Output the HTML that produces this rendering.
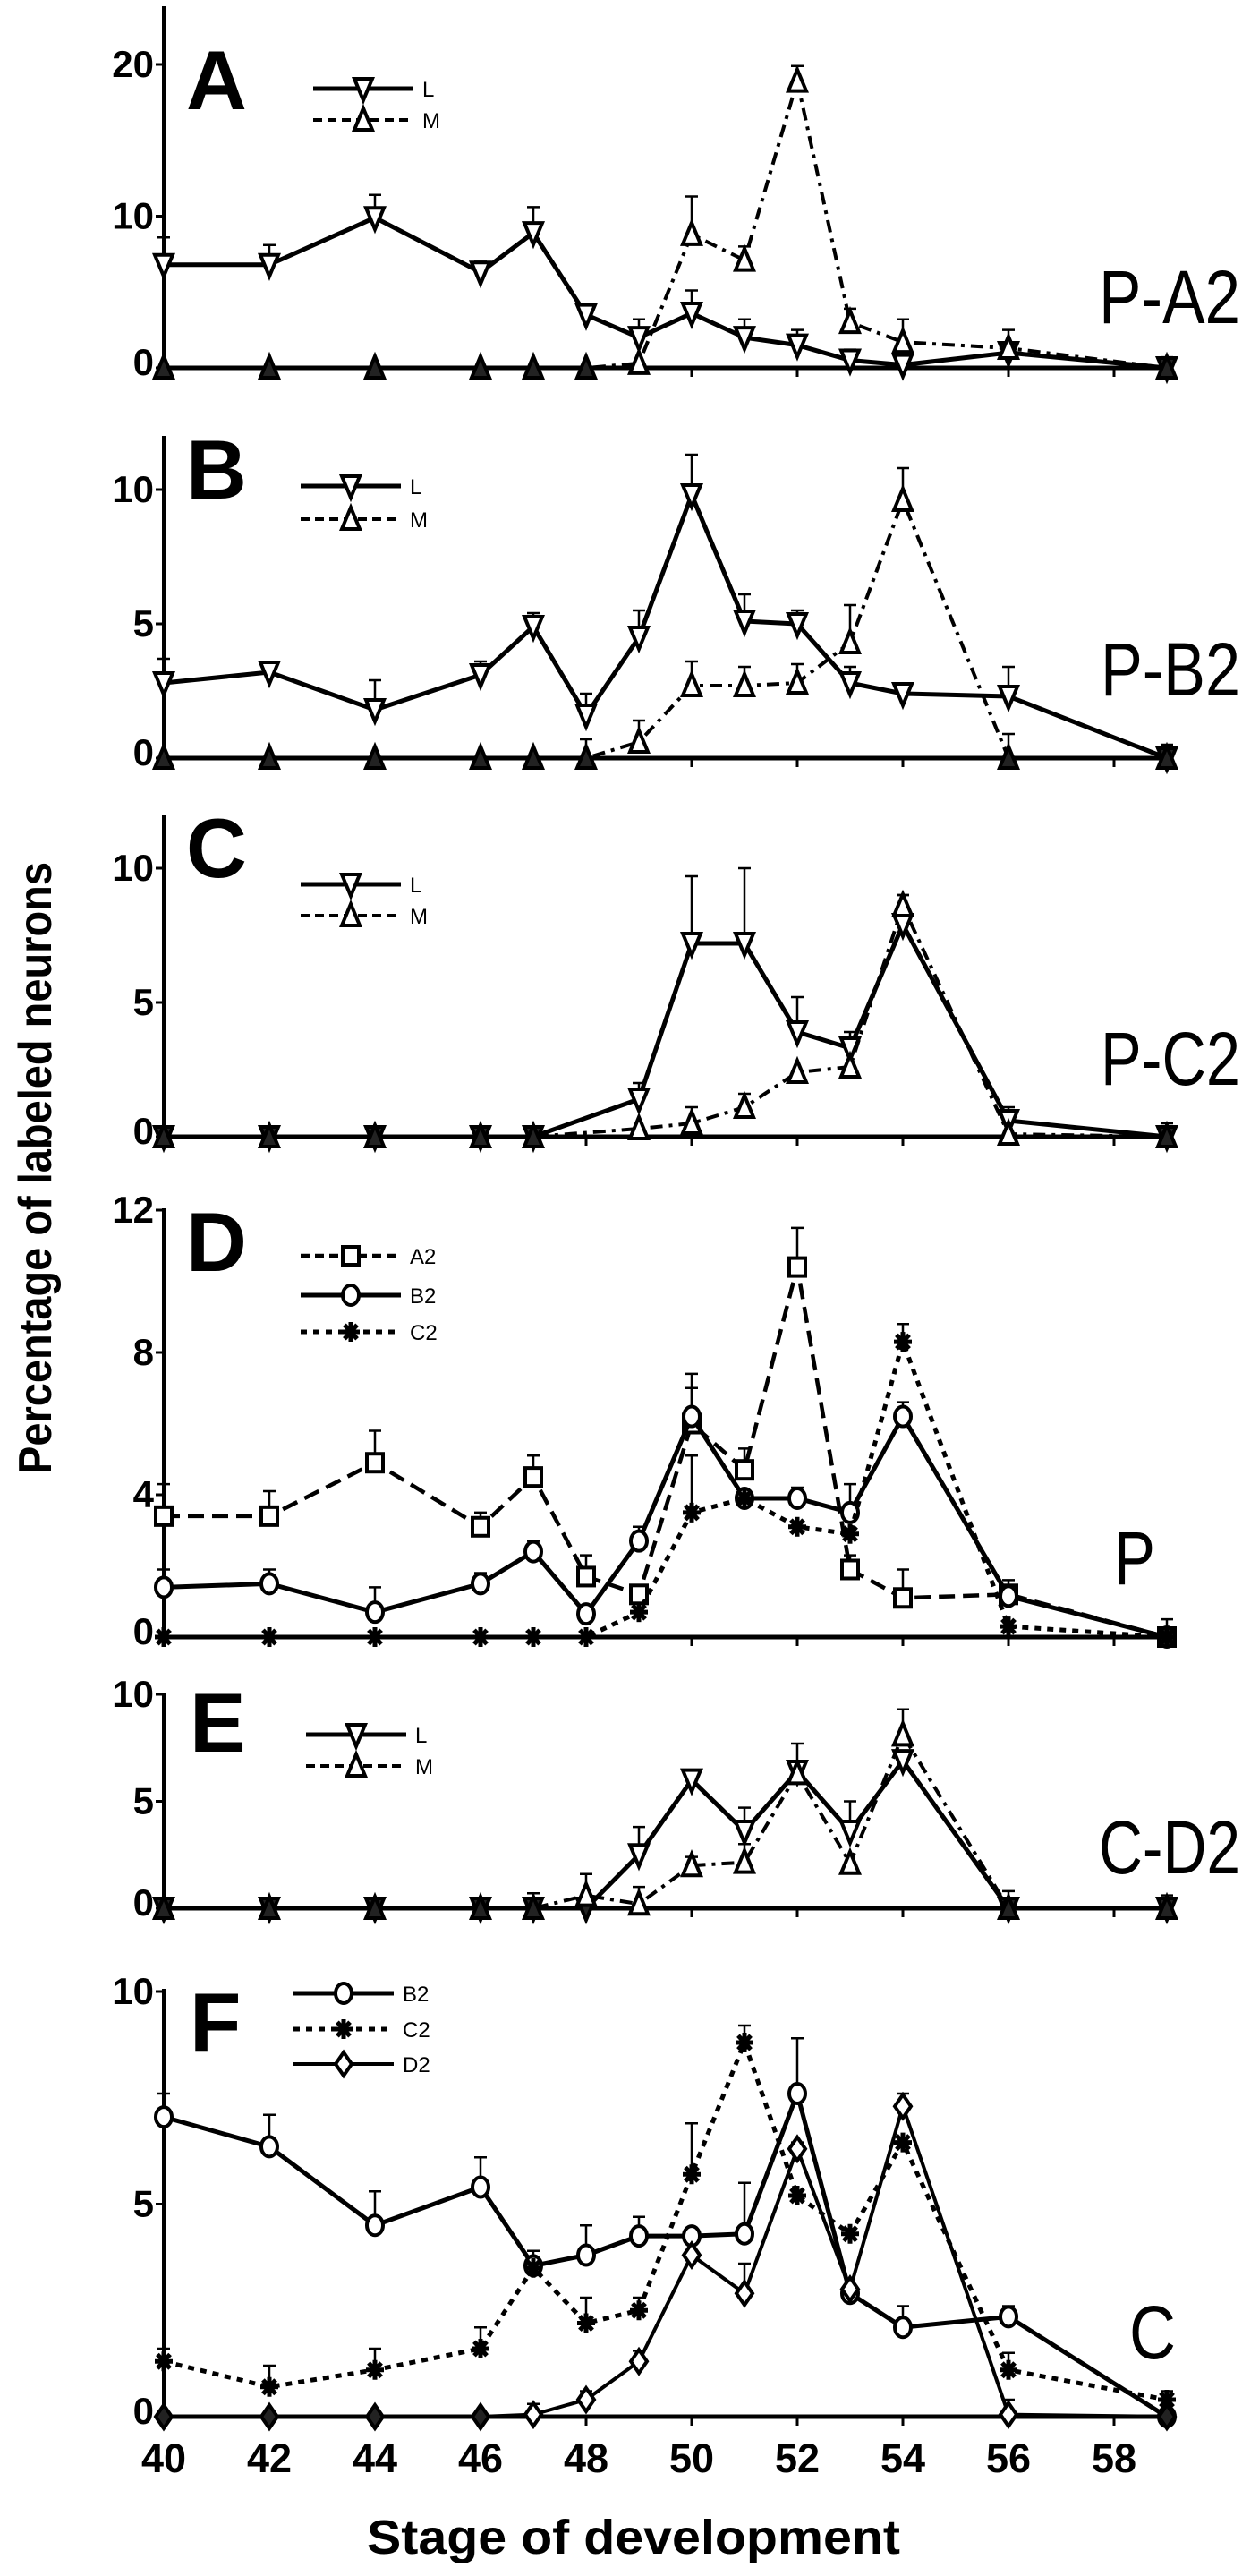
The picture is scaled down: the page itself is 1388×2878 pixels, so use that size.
<!DOCTYPE html>
<html>
<head>
<meta charset="utf-8">
<style>
html,body{margin:0;padding:0;background:#fff;}
svg{display:block;}
text{font-family:"Liberation Sans",Arial,sans-serif;fill:#000;}
</style>
</head>
<body>
<svg id="chart" width="1388" height="2878" viewBox="0 0 1388 2878" xmlns="http://www.w3.org/2000/svg"></svg>
<script>
// ---- shared x categories ----
const stages = [40,42,44,46,47,48,49,50,51,52,53,54,56,59];
const xTickLabels = [40,42,44,46,48,50,52,54,56,58];

// ---- Panel A (P-A2) ----
const aTicks = [0,10,20];
const aL    = [6.8,6.8,9.9,6.3,8.9,3.5,2.0,3.6,2.0,1.5,0.5,0.2,1.0,0];
const aLerr = [8.6,8.1,11.4,7.0,10.6,4.2,3.2,5.1,3.2,2.5,1.2,0.8,null,0.7];
const aM    = [0,0,0,0,0,0,0.3,8.8,7.1,18.9,3.0,1.7,1.3,0];
const aMerr = [null,null,null,null,null,null,null,11.3,8.0,19.9,3.9,3.2,2.5,null];

// ---- Panel B (P-B2) ----
const bTicks = [0,5,10];
const bL    = [2.8,3.2,1.8,3.1,4.9,1.6,4.5,9.8,5.1,5.0,2.8,2.4,2.3,0];
const bLerr = [3.7,3.4,2.9,3.6,5.4,2.4,5.5,11.3,6.1,5.5,3.4,2.7,3.4,0.5];
const bM    = [0,0,0,0,0,0,0.6,2.7,2.7,2.8,4.3,9.6,0,0];
const bMerr = [null,null,null,null,null,0.7,1.4,3.6,3.4,3.5,5.7,10.8,0.9,null];

// ---- Panel C (P-C2) ----
const cTicks = [0,5,10];
const cL    = [0,0,0,0,0,null,1.4,7.2,7.2,3.9,3.3,7.9,0.6,0];
const cLerr = [null,null,null,null,null,null,2.0,9.7,10.0,5.2,3.9,9.0,1.1,0.5];
const cM    = [0,0,0,0,0,null,0.3,0.5,1.1,2.4,2.6,8.6,0.1,0];
const cMerr = [null,null,null,null,null,null,null,1.1,1.6,null,null,9.0,null,null];

// ---- Panel D (P) ----
const dTicks = [0,4,8,12];
const dA2    = [3.4,3.4,4.9,3.1,4.5,1.7,1.2,6.0,4.7,10.4,1.9,1.1,1.2,0];
const dA2err = [4.3,4.1,5.8,3.5,5.1,2.3,null,7.4,5.3,11.5,2.3,1.9,1.6,null];
const dB2    = [1.4,1.5,0.7,1.5,2.4,0.65,2.7,6.2,3.9,3.9,3.5,6.2,1.15,0];
const dB2err = [1.9,1.9,1.4,1.8,2.7,null,3.1,7.0,null,4.2,4.3,6.6,null,null];
const dC2    = [0,0,0,0,0,0,0.7,3.5,3.9,3.1,2.9,8.3,0.3,0];
const dC2err = [null,null,null,null,null,null,null,5.1,null,null,null,8.8,null,0.5];

// ---- Panel E (C-D2) ----
const eTicks = [0,5,10];
const eL    = [0,0,0,0,0,0,2.5,6.0,3.6,6.4,3.6,6.9,0,0];
const eLerr = [null,null,null,null,0.7,null,3.8,6.4,4.7,7.7,5.0,null,0.8,0.6];
const eM    = [0,0,0,0,0,0.6,0.2,2.0,2.15,6.3,2.1,8.1,0,0];
const eMerr = [null,null,null,null,null,1.6,1.0,2.4,3.0,null,null,9.3,null,null];

// ---- Panel F (C) ----
const fTicks = [0,5,10];
const fB2    = [7.05,6.35,4.5,5.4,3.55,3.8,4.25,4.25,4.3,7.6,2.9,2.1,2.35,0];
const fB2err = [7.6,7.1,5.3,6.1,3.9,4.5,4.7,null,5.5,8.9,null,2.6,2.6,0.6];
const fC2    = [1.3,0.7,1.1,1.6,3.5,2.2,2.5,5.7,8.8,5.2,4.3,6.45,1.1,0.4];
const fC2err = [1.6,1.2,1.6,2.1,null,2.8,2.8,6.9,9.2,null,null,null,1.5,null];
const fD2    = [0,0,0,0,0.05,0.4,1.3,3.8,2.9,6.3,3.0,7.3,0.05,0];
const fD2err = [null,null,null,null,0.3,0.6,1.55,null,3.6,6.45,null,7.6,0.4,null];

const NS = "http://www.w3.org/2000/svg";
const svg = document.getElementById('chart');
function mk(tag, attrs, parent){
  const e = document.createElementNS(NS, tag);
  for (const k in attrs) e.setAttribute(k, attrs[k]);
  (parent||svg).appendChild(e);
  return e;
}
function xs(s){ return 183 + (s-40)*59; }

const styles = {
  L:  {dash:null, w:5, marker:'tdown'},
  M:  {dash:'14 7 4 7', w:4, marker:'tup'},
  A2: {dash:'18 9', w:4.5, marker:'square'},
  B2: {dash:null, w:5, marker:'circle'},
  C2: {dash:'7 7', w:5, marker:'star'},
  D2: {dash:null, w:4, marker:'diamond'}
};

function drawMarker(g, type, cx, cy, filled, r){
  r = r||12;
  const fill = filled ? '#222' : '#fff';
  let m;
  if (type==='tdown') m = mk('polygon',{points:`${cx-10},${cy-11} ${cx+10},${cy-11} ${cx},${cy+13}`,fill:fill,stroke:'#000','stroke-width':4},g);
  else if (type==='tup') m = mk('polygon',{points:`${cx-10},${cy+11} ${cx+10},${cy+11} ${cx},${cy-13}`,fill:fill,stroke:'#000','stroke-width':4},g);
  else if (type==='square') m = mk('rect',{x:cx-9,y:cy-10,width:18,height:20,fill:fill,stroke:'#000','stroke-width':4},g);
  else if (type==='circle') m = mk('ellipse',{cx:cx,cy:cy,rx:9,ry:11,fill:fill,stroke:'#000','stroke-width':4},g);
  else if (type==='diamond') m = mk('polygon',{points:`${cx},${cy-13} ${cx+9},${cy} ${cx},${cy+13} ${cx-9},${cy}`,fill:fill,stroke:'#000','stroke-width':4},g);
  else if (type==='star'){
    m = mk('g',{},g);
    for (let a=0;a<4;a++){
      const an = a*Math.PI/4;
      mk('line',{x1:cx-10*Math.cos(an),y1:cy-11*Math.sin(an),x2:cx+10*Math.cos(an),y2:cy+11*Math.sin(an),stroke:'#000','stroke-width':5},m);
    }
  }
  return m;
}

function drawPanel(p){
  const g = mk('g',{});
  
  
  const y = v => p.zero - v*p.ppu;
  // y axis
  const ya = mk('line',{x1:183,y1:p.top,x2:183,y2:p.zero,stroke:'#000','stroke-width':4},g);
  
  
  // x axis
  const xa = mk('line',{x1:181,y1:p.zero,x2:1306,y2:p.zero,stroke:'#000','stroke-width':5},g);
  
  
  xTickLabels.forEach(s=>{
    const t = mk('line',{x1:xs(s),y1:p.zero,x2:xs(s),y2:p.zero+10,stroke:'#000','stroke-width':3},g);
    
    
  });
  p.ticks.forEach(v=>{
    const tm = mk('line',{x1:174,y1:y(v),x2:183,y2:y(v),stroke:'#000','stroke-width':3},g);
    
    
    const tl = mk('text',{x:172,y:y(v)+(v===0?8:14),'text-anchor':'end','font-size':42,'font-weight':'bold'},g);
    tl.textContent = v;
    
    
  });
  // series
  p.series.forEach(s=>{
    const st = styles[s.key];
    const sg = mk('g',{},g);
    
    
    // error bars
    s.err.forEach((e,i)=>{
      if (e===null || s.vals[i]===null) return;
      const x = xs(stages[i]);
      const eb = mk('path',{d:`M${x},${y(s.vals[i])}V${y(e)}M${x-7},${y(e)}H${x+7}`,stroke:'#000','stroke-width':2.5,fill:'none'},sg);
      
      
    });
    let d = '';
    s.vals.forEach((v,i)=>{
      if (v===null) return;
      d += (d?'L':'M') + xs(stages[i]) + ',' + y(v);
    });
    const ln = mk('path',{d:d,fill:'none',stroke:'#000','stroke-width':st.w,'stroke-linejoin':'round'},sg);
    if (st.dash) ln.setAttribute('stroke-dasharray', st.dash);
    
    
    s.vals.forEach((v,i)=>{
      if (v===null) return;
      const m = drawMarker(sg, st.marker, xs(stages[i]), y(v), v===0);
      
      
    });
  });
  // panel letter
  const pl = mk('text',{x:p.lx,y:p.ly,'font-size':94,'font-weight':'bold'},g);
  pl.textContent = p.id;
  
  
  // panel label
  const lb = mk('text',{x:p.labX,y:p.labY,'font-size':84,textLength:p.labW,lengthAdjust:'spacingAndGlyphs'},g);
  lb.textContent = p.label;
  
  
  // legend
  p.series.forEach((s,i)=>{
    const st = styles[s.key];
    const ly = p.legY[i];
    const lg = mk('g',{},g);
    
    
    const l = mk('line',{x1:p.legX,y1:ly,x2:p.legX+112,y2:ly,stroke:'#000','stroke-width':st.w},lg);
    if (st.dash) l.setAttribute('stroke-dasharray', st.dash==='7 7'?'7 7':'10 6');
    drawMarker(lg, st.marker, p.legX+56, ly, false);
    const lt = mk('text',{x:p.legX+122,y:ly+9,'font-size':24},lg);
    lt.textContent = s.key;
  });
}

const panels = [
  {id:'A',zero:411,ppu:16.95,top:7,ticks:aTicks,lx:208,ly:122,label:'P-A2',labX:1228,labY:361,labW:158,legX:350,legY:[99,134],
   series:[{key:'L',vals:aL,err:aLerr},{key:'M',vals:aM,err:aMerr}]},
  {id:'B',zero:847,ppu:30,top:487,ticks:bTicks,lx:208,ly:557,label:'P-B2',labX:1230,labY:777,labW:156,legX:336,legY:[543,580],
   series:[{key:'L',vals:bL,err:bLerr},{key:'M',vals:bM,err:bMerr}]},
  {id:'C',zero:1270,ppu:30,top:910,ticks:cTicks,lx:208,ly:980,label:'P-C2',labX:1230,labY:1212,labW:156,legX:336,legY:[988,1023],
   series:[{key:'L',vals:cL,err:cLerr},{key:'M',vals:cM,err:cMerr}]},
  {id:'D',zero:1829,ppu:39.75,top:1350,ticks:dTicks,lx:208,ly:1420,label:'P',labX:1245,labY:1770,labW:46,legX:336,legY:[1403,1447,1488],
   series:[{key:'A2',vals:dA2,err:dA2err},{key:'B2',vals:dB2,err:dB2err},{key:'C2',vals:dC2,err:dC2err}]},
  {id:'E',zero:2132,ppu:23.9,top:1891,ticks:eTicks,lx:212,ly:1957,label:'C-D2',labX:1228,labY:2093,labW:158,legX:342,legY:[1938,1973],
   series:[{key:'L',vals:eL,err:eLerr},{key:'M',vals:eM,err:eMerr}]},
  {id:'F',zero:2700,ppu:47.5,top:2222,ticks:fTicks,lx:212,ly:2292,label:'C',labX:1262,labY:2635,labW:52,legX:328,legY:[2227,2267,2306],
   series:[{key:'B2',vals:fB2,err:fB2err},{key:'C2',vals:fC2,err:fC2err},{key:'D2',vals:fD2,err:fD2err}]}
];
panels.forEach(drawPanel);

// x tick labels (bottom only)
xTickLabels.forEach(s=>{
  const t = mk('text',{x:xs(s),y:2762,'text-anchor':'middle','font-size':45,'font-weight':'bold'});
  t.textContent = s;
  
  
});
// axis titles
const xt = mk('text',{x:410,y:2853,'font-size':54,'font-weight':'bold',textLength:596,lengthAdjust:'spacingAndGlyphs'});
xt.textContent = 'Stage of development';


const yt = mk('text',{x:0,y:0,'font-size':52,'font-weight':'bold','text-anchor':'middle',textLength:684,lengthAdjust:'spacingAndGlyphs',transform:'translate(57,1305) rotate(-90)'});
yt.textContent = 'Percentage of labeled neurons';


</script>
</body>
</html>
